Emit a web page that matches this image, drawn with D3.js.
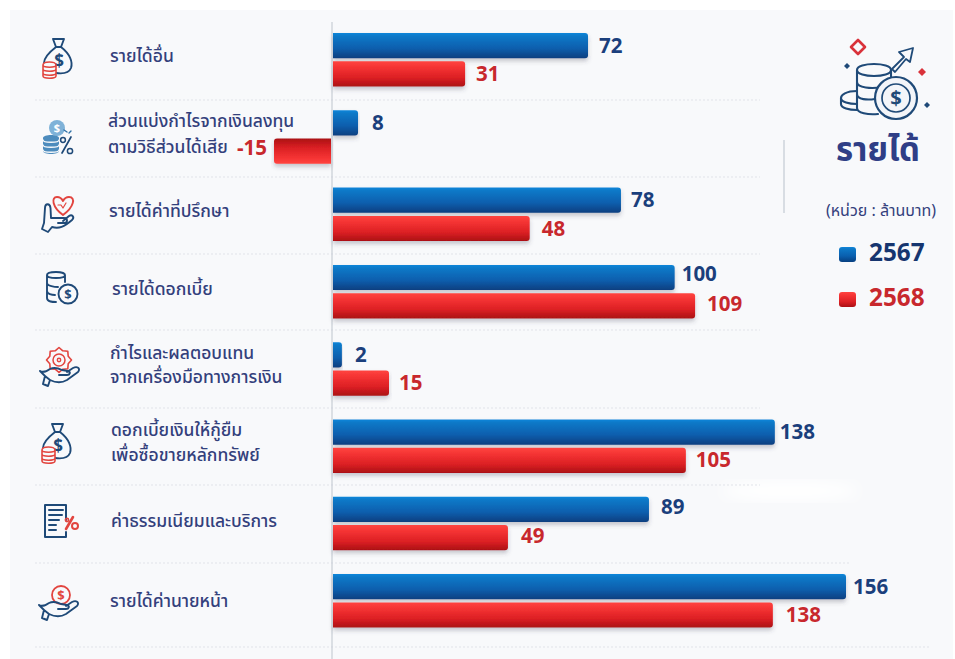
<!DOCTYPE html>
<html lang="th">
<head>
<meta charset="utf-8">
<script src="https://cdn.jsdelivr.net/npm/d3@7"></script>
<style>
html,body{margin:0;padding:0;background:#fff}
svg{display:block}
text{font-family:"Noto Sans Thai","Noto Sans","Open Sans",sans-serif}
</style>
</head>
<body>
<div id="chart"></div>
<script>
// Categories, top to bottom (multi-line labels split on "|")
const categories = [
  "รายได้อื่น",
  "ส่วนแบ่งกำไรจากเงินลงทุน|ตามวิธีส่วนได้เสีย",
  "รายได้ค่าที่ปรึกษา",
  "รายได้ดอกเบี้ย",
  "กำไรและผลตอบแทน|จากเครื่องมือทางการเงิน",
  "ดอกเบี้ยเงินให้กู้ยืม|เพื่อซื้อขายหลักทรัพย์",
  "ค่าธรรมเนียมและบริการ",
  "รายได้ค่านายหน้า"
];
const years = ["2567", "2568"];
// Printed value labels
const values2567 = [72, 8, 78, 100, 2, 138, 89, 156];
const values2568 = [31, -15, 48, 109, 15, 105, 49, 138];
// The source's bars are not proportional to their printed labels, so the bar
// lengths are read separately off the picture, in the units of the 156 bar.
const barRead2567 = [77.7, 7.9, 87.7, 104, 3, 134.4, 96.2, 156];
const barRead2568 = [40.4, -17.6, 60, 110.2, 17.3, 107.4, 53.4, 133.8];
const iconNames = ["bag", "sharePct", "heartHand", "coinsDollar", "gearHand", "bag", "docPct", "coinHand"];

const W = 955, H = 659;
const NAVY = "#1f4a78", RED = "#e2453f", TXT = "#33407c";
const svg = d3.select("#chart").append("svg").attr("width", W).attr("height", H);
const defs = svg.append("defs");

function grad(id, stops) {
  const g = defs.append("linearGradient").attr("id", id).attr("x1", 0).attr("x2", 0).attr("y1", 0).attr("y2", 1);
  stops.forEach(([o, c]) => g.append("stop").attr("offset", o).attr("stop-color", c));
}
grad("g2567", [[0, "#1186da"], [0.12, "#0d79c8"], [0.6, "#0a5fae"], [1, "#073f80"]]);
grad("g2568", [[0, "#ff4440"], [0.25, "#f43333"], [0.65, "#dc2024"], [1, "#ab1014"]]);
grad("g2568neg", [[0, "#ab1014"], [0.35, "#d91f23"], [0.75, "#f43333"], [1, "#ff4440"]]);
defs.append("filter").attr("id", "sh").attr("x", "-5%").attr("y", "-30%").attr("width", "110%").attr("height", "190%")
  .append("feDropShadow").attr("dx", 0).attr("dy", 3).attr("stdDeviation", 2.2).attr("flood-color", "#40455a").attr("flood-opacity", 0.28);
defs.append("filter").attr("id", "blur").append("feGaussianBlur").attr("stdDeviation", 7);

// Backdrop
svg.append("rect").attr("x", 10).attr("y", 10).attr("width", 943).attr("height", H - 10).attr("fill", "#f8f9fb");
svg.append("ellipse").attr("cx", 790).attr("cy", 491).attr("rx", 68).attr("ry", 10).attr("fill", "#fff").attr("filter", "url(#blur)");

// Scales
const x = d3.scaleLinear().domain([0, 156]).range([332, 846]);
const y = d3.scaleBand().domain(categories).range([21, 639.4]);
const ySub = d3.scaleBand().domain(years).range([12, 65.5]).paddingInner(0.11);

// Row separators
const sepY = [100, 177, 254, 330, 408, 485, 563, 647];
const sepEnd = [760, 760, 760, 760, 760, 760, 850, 930];
svg.append("g").selectAll("line").data(sepY).join("line")
  .attr("x1", 35).attr("x2", (d, i) => sepEnd[i])
  .attr("y1", d => d).attr("y2", d => d)
  .attr("stroke", "#e1e3e9").attr("stroke-width", 1).attr("stroke-dasharray", "2 2");

// Zero axis
svg.append("line").attr("x1", x(0)).attr("x2", x(0)).attr("y1", 22).attr("y2", H).attr("stroke", "#c8cdd6").attr("stroke-width", 1.2);
// Right-hand divider
svg.append("line").attr("x1", 784).attr("x2", 784).attr("y1", 140).attr("y2", 213).attr("stroke", "#c3cad4").attr("stroke-width", 1.2);

// Bars
function barPath(v, top, h) {
  const x0 = x(0) + (v < 0 ? -1 : 1), x1 = x(v), r = Math.min(3, Math.abs(x1 - x0));
  const s = v < 0 ? -1 : 1, p = d3.path();
  p.moveTo(x0, top);
  p.lineTo(x1 - s * r, top);
  p.quadraticCurveTo(x1, top, x1, top + r);
  p.lineTo(x1, top + h - r);
  p.quadraticCurveTo(x1, top + h, x1 - s * r, top + h);
  p.lineTo(x0, top + h);
  p.closePath();
  return p.toString();
}
// Per-label offsets [dx, dy] from the default label position
const nudge2567 = [[0, 0], [3, 0], [-1, 0], [-4, -3], [2, 0], [-6, 0], [1, -2], [-4, 0]];
const nudge2568 = [[0, 0], [0, -3], [1, 0], [1, -2], [-1, 0], [-1, 0], [2, -2], [2, 0]];
const rows = categories.flatMap((c, i) => [
  { c, year: "2567", label: values2567[i], bar: barRead2567[i], n: nudge2567[i] },
  { c, year: "2568", label: values2568[i], bar: barRead2568[i], n: nudge2568[i] }
]);
svg.append("g").selectAll("path").data(rows).join("path")
  .attr("d", d => barPath(d.bar, y(d.c) + ySub(d.year), ySub.bandwidth()))
  .attr("fill", d => `url(#${d.year === "2567" ? "g2567" : d.bar < 0 ? "g2568neg" : "g2568"})`)
  .attr("filter", "url(#sh)");

// Value labels
svg.append("g").selectAll("text").data(rows).join("text")
  .attr("x", d => x(d.bar) + (d.bar < 0 ? -7 : 11) + d.n[0])
  .attr("y", d => y(d.c) + ySub(d.year) + ySub.bandwidth() / 2 + 7 + d.n[1])
  .attr("text-anchor", d => d.bar < 0 ? "end" : "start")
  .attr("font-size", 20.5).attr("font-weight", 700)
  .style("font-family", '"Open Sans","Noto Sans",sans-serif')
  .attr("fill", d => d.year === "2567" ? "#1b3f7c" : "#c8282d")
  .text(d => d.label);

// Category labels: line-centre y and left edge for each row
const labelX = [110, 108, 109, 112, 110, 111, 111, 110];
const labelCy = [[56], [121, 147], [211], [289], [352.5, 377], [430, 454.5], [521], [601]];
svg.append("g").selectAll("g").data(categories).join("g")
  .each(function (d, r) {
    d3.select(this).selectAll("text").data(d.split("|")).join("text")
      .attr("x", labelX[r])
      .attr("y", (l, i) => labelCy[r][i] + 6)
      .attr("font-size", 17.5).attr("font-weight", 500).attr("fill", TXT)
      .text(l => l);
  });

// ---- Icons (decorative line art) ----
function st(sel, color, w) { return sel.attr("fill", "none").attr("stroke", color || NAVY).attr("stroke-width", w || 1.9).attr("stroke-linecap", "round").attr("stroke-linejoin", "round"); }
function P(g, d, color, w) { return st(g.append("path").attr("d", d), color, w); }
function C(g, cx, cy, r, color, w) { return st(g.append("circle").attr("cx", cx).attr("cy", cy).attr("r", r), color, w); }
function dollar(g, cx, cy, size, color) {
  g.append("text").attr("x", cx).attr("y", cy + size * 0.36).attr("text-anchor", "middle").attr("font-size", size)
    .attr("font-weight", 700).style("font-family", '"Open Sans",sans-serif').attr("fill", color || NAVY).text("$");
}
function hand(g, color) {
  P(g, "M-19 6 C-15 8 -12 6 -9 4 C-5 2 -1 3 3 5 L9 6 C12 7 11 10 8 10 L0 10 M-9 15 C-3 18 3 18 8 15 L19 7 C22 3 18 1 14 3 L8 7 M-19 6 L-14 11 L-16 19 M-14 11 L-9 15 M-16 19 L-11 21 L-9 15", color);
}
const icons = {
  bag(g) {
    P(g, "M-4 -19 L7 -19 L4 -11 L-1 -11 Z M-1 -11 C-10 -4 -13 1 -13 5 M4 -11 C13 -4 16 4 14 10 C12 15 6 16 -1 15");
    dollar(g, 2, 3, 17);
    g.append("path").attr("d", "M-14 7 C-14 3 -1 3 -1 7 L-1 18 C-1 21 -14 21 -14 18 Z").attr("fill", "#f8f9fb");
    P(g, "M-14 7 C-14 3 -1 3 -1 7 C-1 10 -14 10 -14 7 Z M-14 7 L-14 18 C-14 21 -1 21 -1 18 L-1 7 M-14 11 C-14 14 -1 14 -1 11 M-14 15 C-14 18 -1 18 -1 15", RED, 1.6);
  },
  sharePct(g) {
    g.append("circle").attr("cx", 0).attr("cy", -9).attr("r", 8).attr("fill", "#7fb2d8");
    dollar(g, 0, -9, 11, "#fff");
    g.append("path").attr("d", "M-14 1 C-14 -3 2 -3 2 1 L2 14 C2 18 -14 18 -14 14 Z").attr("fill", "#4d8cbd");
    [3, 8, 13].forEach(d => P(g, `M-14 ${d} C-14 ${d + 3} 2 ${d + 3} 2 ${d}`, "#f8f9fb", 1.3));
    P(g, "M5 16 L14 0", NAVY, 1.7);
    C(g, 6, 3, 2.4, NAVY, 1.5); C(g, 13, 14, 2.6, NAVY, 1.5);
    P(g, "M7 -7 L10 -5 M12 -4 L14 -6", "#2f72a8", 1.4);
  },
  heartHand(g) {
    P(g, "M5 3 C-6 -5 -7 -15 -1 -15 C2 -15 4 -13 5 -11 C6 -13 8 -15 11 -15 C18 -15 16 -5 5 3 Z", RED, 1.9);
    P(g, "M0 -7 L3 -7 L5 -4 L8 -9", RED, 1.2);
    P(g, "M-14 11 L-13 -4 C-13 -9 -8 -9 -7.5 -4 L-7 6 L6 6 C10 6 10 11 6 11 L0 11 M-14 11 L-16 17 L-10 20 L-6 15 C1 17 6 15 14 8 C17 5 14 2 11 4 L5 9");
  },
  coinsDollar(g) {
    P(g, "M-14 -14 C-14 -18 4 -18 4 -14 C4 -10 -14 -10 -14 -14 Z M-14 -14 L-14 9 C-14 13 -8 13 -5 13 M-14 -6 C-14 -3 -6 -2 -3 -2 M-14 2 C-14 5 -9 6 -6 6 M4 -14 L4 -7");
    C(g, 7, 5, 9.5);
    dollar(g, 7, 5, 13);
  },
  gearHand(g) {
    const gear = d3.range(8).map(i => {
      const a = i * Math.PI / 4, a2 = a + Math.PI / 8;
      return `${i ? "L" : "M"}${(12.5 * Math.cos(a)).toFixed(1)} ${(12.5 * Math.sin(a) - 6).toFixed(1)} L${(10 * Math.cos(a2)).toFixed(1)} ${(10 * Math.sin(a2) - 6).toFixed(1)}`;
    }).join(" ") + " Z";
    P(g, gear, RED, 1.6);
    C(g, 0, -6, 6, RED, 1.5);
    C(g, 0, -6, 1.7, RED, 1.4);
    g.append("g").attr("transform", "translate(0,-1)").call(hand);
  },
  docPct(g) {
    P(g, "M6 -1 L6 -16 L-15 -16 L-15 16 L6 16 L6 11 M-11 -11 L3 -11 M-11 -6 L2 -6 M-11 -1 L-1 -1 M-11 4 L-4 4 M-11 9 L-4 9", NAVY, 2);
    P(g, "M6 8 L13 -4", RED, 2.6);
    C(g, 7, -1, 1.6, RED, 1.6);
    C(g, 15, 5, 3, RED, 2);
  },
  coinHand(g) {
    C(g, 3, -5, 9, RED, 1.8);
    dollar(g, 3, -5, 13, RED);
    g.append("g").attr("transform", "translate(0,-1)").call(hand);
  }
};
const iconPos = [[57, 58], [57, 137], [58, 212], [61, 289], [59, 366], [56, 443], [60, 521], [58, 600]];
iconNames.forEach((n, i) => {
  icons[n](svg.append("g").attr("transform", `translate(${iconPos[i]})`));
});

// ---- Right-hand header ----
const hdr = svg.append("g").attr("transform", "translate(896,98)");
P(hdr, "M-39 -28 C-39 -36 -5 -36 -5 -28 C-5 -20 -39 -20 -39 -28 Z M-39 -28 L-39 10 C-39 15 -28 17 -18 16 M-5 -28 L-5 -21 M-39 -16 C-39 -10 -24 -9 -14 -11 M-39 -4 C-39 2 -28 2 -21 1", NAVY, 2.1);
P(hdr, "M-39 -7 C-50 -7 -55 -3 -55 0 L-55 6 C-55 10 -47 12 -39 12 M-55 0 C-55 4 -47 6 -39 6", NAVY, 2.1);
hdr.append("circle").attr("r", 21).attr("fill", "#f3f5f9");
C(hdr, 0, 0, 21, NAVY, 2.2);
C(hdr, 0, 0, 14, NAVY, 1.7);
dollar(hdr, 0, 0, 20);
P(hdr, "M-4 -29 L8 -41 L3 -46 L17 -50 L14 -36 L10 -39 L-1 -26 Z", NAVY, 1.8);
P(hdr, "M-38 -58 L-31 -51 L-38 -44 L-45 -51 Z", "#d9323a", 2.6);
[[-49, -32, 3, NAVY], [26, -26, 4, "#d9323a"], [31, 7, 3, NAVY]].forEach(([a, b, r, c]) => {
  hdr.append("path").attr("d", `M${a - r} ${b} L${a} ${b - r} L${a + r} ${b} L${a} ${b + r} Z`).attr("fill", c);
});

svg.append("text").attr("x", 878).attr("y", 161).attr("text-anchor", "middle").attr("font-size", 33).attr("font-weight", 700).attr("fill", "#2f3e86").text("รายได้");
svg.append("text").attr("x", 881).attr("y", 216).attr("text-anchor", "middle").attr("font-size", 16).attr("fill", TXT).text("(หน่วย : ล้านบาท)");

// Legend
const legend = svg.append("g").selectAll("g").data(years).join("g")
  .attr("transform", (d, i) => `translate(839,${247 + i * 45})`);
legend.append("rect").attr("width", 17).attr("height", 15).attr("rx", 3)
  .attr("fill", d => d === "2567" ? "url(#g2567)" : "url(#g2568)");
legend.append("text").attr("x", 30).attr("y", 14).attr("font-size", 24.3).attr("font-weight", 700)
  .style("font-family", '"Open Sans","Noto Sans",sans-serif')
  .attr("fill", d => d === "2567" ? "#16356f" : "#c8282d").text(d => d);
</script>
</body>
</html>
